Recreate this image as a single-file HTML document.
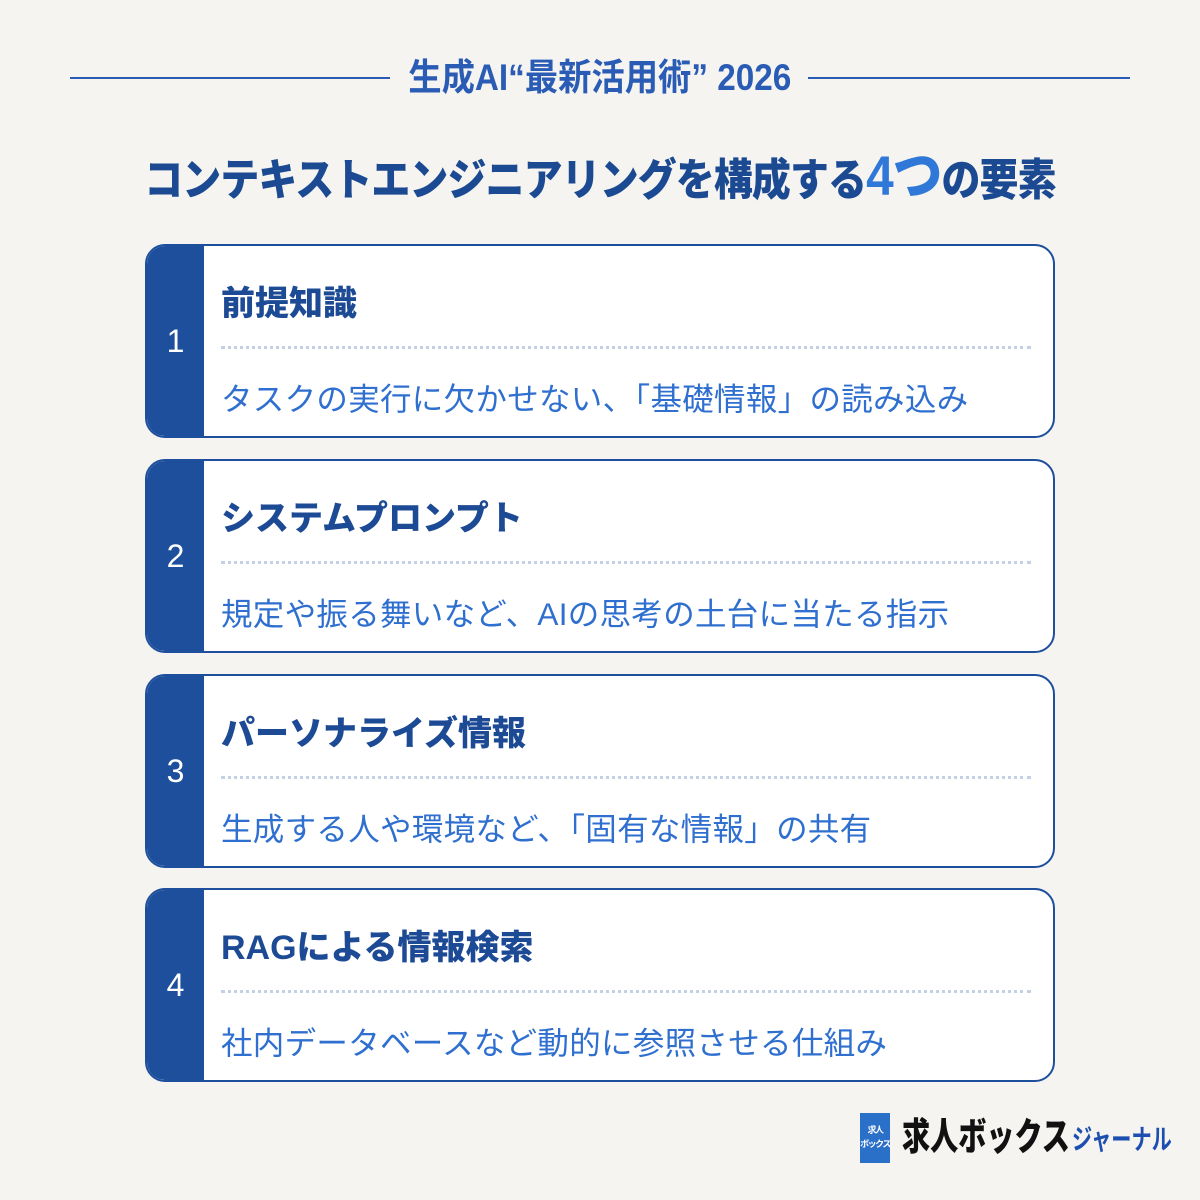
<!DOCTYPE html>
<html><head><meta charset="utf-8"><style>
*{margin:0;padding:0;box-sizing:border-box}
body{width:1200px;height:1200px;background:#f5f4f0;position:relative;overflow:hidden;font-family:"Liberation Sans","Noto Sans CJK JP",sans-serif}
.hl{position:absolute;top:77px;height:2px;background:#2a5cb5}
.hd{position:absolute;top:56px;left:0;width:1200px;text-align:center;line-height:44px}
.hd span{display:inline-block;font-size:37px;font-weight:bold;color:#2a5cb5;transform:scaleX(0.9)}
.tt{position:absolute;top:146px;left:0;width:1200px;text-align:center;line-height:60px;white-space:nowrap}
.tt span.in{display:inline-block;font-size:44px;font-weight:900;color:#1c4a92;transform:scaleX(0.885);transform-origin:center;letter-spacing:-1px}
.tt b{font-size:56px;color:#2f78d8}
.card{position:absolute;left:145px;width:910px;height:194px;border:2px solid #1d4f9c;border-radius:20px;background:#fff;overflow:hidden}
.num{position:absolute;left:0;top:0;bottom:0;width:57px;background:#1d4f9c;color:#fff;font-size:32px;display:flex;align-items:center;justify-content:center}
.t1{position:absolute;left:74px;top:38px;font-size:34px;font-weight:900;color:#1d4a94;line-height:40px;white-space:nowrap}
.dl{position:absolute;left:74px;right:22px;top:100px;border-top:3px dotted #c3d0e6}
.t2{position:absolute;left:74px;top:133px;font-size:31.5px;color:#2f6fcf;line-height:40px;white-space:nowrap;letter-spacing:0.3px}
.logo{position:absolute;left:860px;top:1113px;width:30px;height:50px;background:#2a6fc8;color:#fff;font-size:9px;font-weight:bold;text-align:center;line-height:14px;padding-top:10px;letter-spacing:-1.5px;white-space:nowrap}
.l1{position:absolute;left:902px;top:1110px;font-size:38px;font-weight:900;color:#111;line-height:56px;white-space:nowrap;transform:scaleX(0.74);transform-origin:left}
.l2{position:absolute;left:1072px;top:1118px;font-size:28px;font-weight:bold;color:#1d4fb0;line-height:44px;white-space:nowrap;transform:scaleX(0.72);transform-origin:left}
</style></head><body>
<div class="hl" style="left:70px;width:320px"></div>
<div class="hl" style="left:808px;width:322px"></div>
<div class="hd"><span>生成AI“最新活用術” 2026</span></div>
<div class="tt"><span class="in">コンテキストエンジニアリングを構成する<b>4つ</b>の要素</span></div>

<div class="card" style="top:244px"><div class="num">1</div><div class="t1">前提知識</div><div class="dl"></div><div class="t2">タスクの実行に欠かせない、「基礎情報」の読み込み</div></div>
<div class="card" style="top:459px"><div class="num">2</div><div class="t1">システムプロンプト</div><div class="dl"></div><div class="t2">規定や振る舞いなど、AIの思考の土台に当たる指示</div></div>
<div class="card" style="top:674px"><div class="num">3</div><div class="t1">パーソナライズ情報</div><div class="dl"></div><div class="t2">生成する人や環境など、「固有な情報」の共有</div></div>
<div class="card" style="top:888px"><div class="num">4</div><div class="t1">RAGによる情報検索</div><div class="dl"></div><div class="t2">社内データベースなど動的に参照させる仕組み</div></div>

<div class="logo">求人<br>ボックス</div>
<div class="l1">求人ボックス</div>
<div class="l2">ジャーナル</div>
</body></html>
